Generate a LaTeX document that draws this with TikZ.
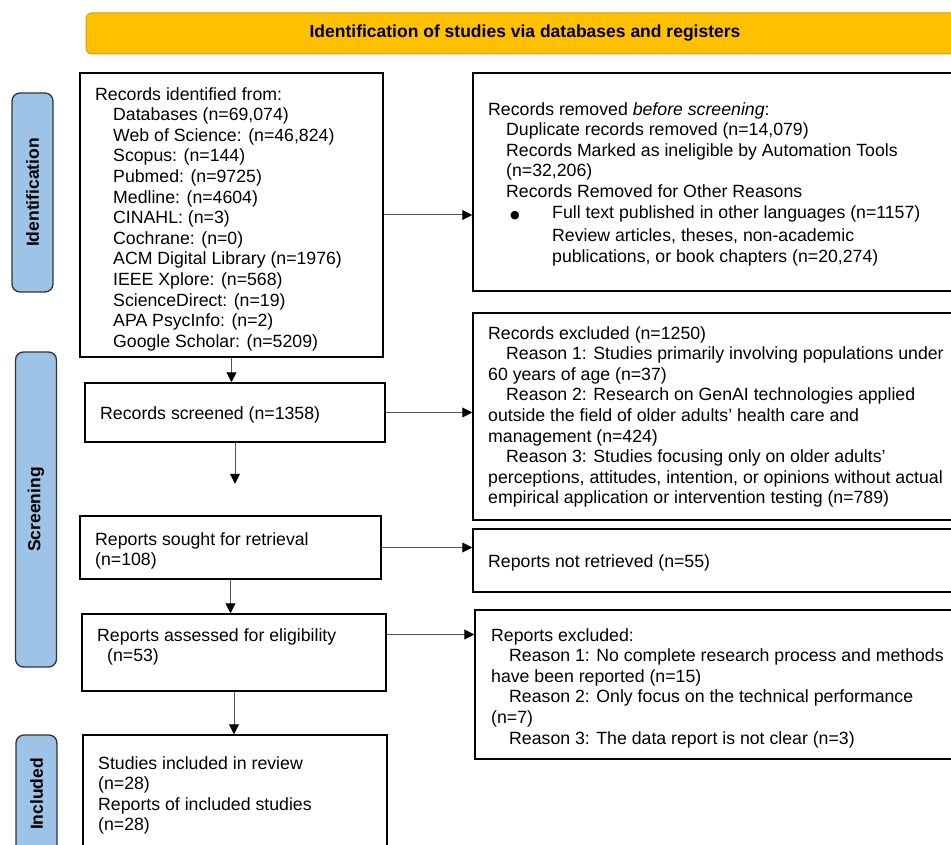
\documentclass[tikz,border=0pt]{standalone}
\usepackage{fontspec}
\setmainfont{Liberation Sans}
\newfontfamily\symfont{DejaVu Sans}
\usetikzlibrary{arrows.meta}
\usetikzlibrary{positioning}

\definecolor{bannerfill}{HTML}{FFC000}
\definecolor{bannerline}{HTML}{CFA21A}
\definecolor{stagefill}{HTML}{9DC3E6}
\definecolor{stageline}{HTML}{333333}
\definecolor{flowgray}{HTML}{555555}

\newcommand{\bodysize}{\fontsize{17.7}{20.6}\selectfont}
\newcommand{\ind}{\hspace*{18pt}}

\tikzset{
  box/.style={draw,rectangle,line width=1.5pt,inner sep=0pt},
  boxtext/.style={anchor=north west,align=left,inner sep=0pt,font=\bodysize},
  stage/.style={draw=stageline,fill=stagefill,rectangle,rounded corners=8pt,line width=1.3pt,
    rotate=90,minimum height=41pt,inner sep=0pt,font=\fontsize{17.5}{20}\selectfont\bfseries},
  banner/.style={draw=bannerline,fill=bannerfill,rectangle,rounded corners=6pt,line width=1pt,
    inner sep=0pt,font=\fontsize{17.5}{20}\selectfont\bfseries},
  flow/.style={draw=flowgray,line width=1pt,-{Triangle[length=10pt,width=10pt,color=black]}}
}

\begin{document}
\begin{tikzpicture}[x=1pt,y=-1pt]

  \useasboundingbox (0,0) rectangle (951,845);
  \clip (0,0) rectangle (951,845);

  \node [banner,minimum width=878pt,minimum height=41pt] (top) at (525,33.5)
    {\raisebox{-1.5pt}{Identification of studies via databases and registers}};

  \node [stage,minimum width=199pt] (stageident) at (32.5,192.5) {Identification};
  \node [stage,minimum width=315pt] (stagescreen) at (36,509.5) {Screening};
  \node [stage,minimum width=118pt] (stageincl) at (36.5,794) {Included};

  \node [box,minimum width=303pt,minimum height=284pt] (ident) at (231.5,215) {};
  \node [box,minimum width=492pt,minimum height=218pt] (removed) at (719,182) {};
  \node [box,minimum width=300pt,minimum height=59pt] (screened) at (235,412.5) {};
  \node [box,minimum width=492pt,minimum height=207pt] (excluded) at (719,416.5) {};
  \node [box,minimum width=301pt,minimum height=63pt] (sought) at (230.5,547.5) {};
  \node [box,minimum width=492pt,minimum height=63pt] (notret) at (719,560.5) {};
  \node [box,minimum width=304pt,minimum height=77pt] (assessed) at (234,652.5) {};
  \node [box,minimum width=490pt,minimum height=149pt] (repexcl) at (720,684.5) {};
  \node [box,minimum width=304pt,minimum height=145pt] (incl) at (235,807.5) {};

  \node [boxtext] (identtext) at (95,87) {Records identified from:\\
    \ind Databases (n=69,074)\\
    \ind Web of Science: (n=46,824)\\
    \ind Scopus: (n=144)\\
    \ind Pubmed: (n=9725)\\
    \ind Medline: (n=4604)\\
    \ind CINAHL: (n=3)\\
    \ind Cochrane: (n=0)\\
    \ind ACM Digital Library (n=1976)\\
    \ind IEEE Xplore: (n=568)\\
    \ind ScienceDirect: (n=19)\\
    \ind APA PsycInfo: (n=2)\\
    \ind Google Scholar: (n=5209)};

  \node [boxtext] (removedtext) at (488,102) {Records removed \textit{before screening}:\\
    \ind Duplicate records removed (n=14,079)\\
    \ind Records Marked as ineligible by Automation Tools\\
    \ind (n=32,206)\\
    \ind Records Removed for Other Reasons\\[0pt]
    \hspace*{22pt}\makebox[42pt][l]{\symfont\fontsize{11}{12}\selectfont ●}Full text published in other languages (n=1157)\\[3pt]
    \hspace*{64pt}Review articles, theses, non-academic\\
    \hspace*{64pt}publications, or book chapters (n=20,274)};

  \node [boxtext] (screenedtext) at (100,406) {Records screened (n=1358)};

  \node [boxtext] (excludedtext) at (488,326) {Records excluded (n=1250)\\
    \ind Reason 1: Studies primarily involving populations under\\
    60 years of age (n=37)\\
    \ind Reason 2: Research on GenAI technologies applied\\
    outside the field of older adults’ health care and\\
    management (n=424)\\
    \ind Reason 3: Studies focusing only on older adults’\\
    perceptions, attitudes, intention, or opinions without actual\\
    empirical application or intervention testing (n=789)};

  \node [boxtext] (soughttext) at (95,532) {Reports sought for retrieval\\(n=108)};

  \node [boxtext] (notrettext) at (488,554) {Reports not retrieved (n=55)};

  \node [boxtext] (assessedtext) at (97,628) {Reports assessed for eligibility\\
    \hspace*{10pt}(n=53)};

  \node [boxtext] (repexcltext) at (491,628) {Reports excluded:\\
    \ind Reason 1: No complete research process and methods\\
    have been reported (n=15)\\
    \ind Reason 2: Only focus on the technical performance\\
    (n=7)\\
    \ind Reason 3: The data report is not clear (n=3)};

  \node [boxtext] (incltext) at (98,756) {Studies included in review\\
    (n=28)\\
    Reports of included studies\\
    (n=28)};

  \coordinate [below=41pt of screened.south] (screenedend);

  \path
    (ident.east) edge [flow] (ident.east -| removed.west)
    (screened.east) edge [flow] (screened.east -| excluded.west)
    (sought.east) edge [flow] (sought.east -| notret.west)
    ([yshift=18pt]assessed.east) edge [flow] ([yshift=18pt]assessed.east -| repexcl.west);

  \path
    (ident.south) edge [flow] (ident.south |- screened.north)
    (screened.south) edge [flow] (screenedend)
    (sought.south) edge [flow] (sought.south |- assessed.north)
    (assessed.south) edge [flow] (assessed.south |- incl.north);

\end{tikzpicture}
\end{document}
